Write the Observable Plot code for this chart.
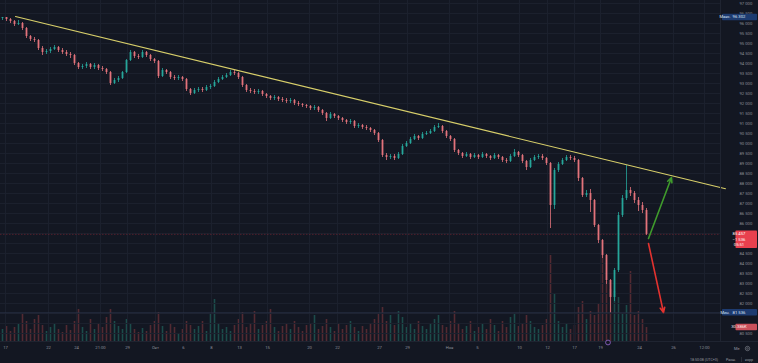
<!DOCTYPE html>
<html><head><meta charset="utf-8">
<script src="https://cdn.jsdelivr.net/npm/d3@7"></script>
<script src="https://cdn.jsdelivr.net/npm/@observablehq/plot@0.6"></script>
<style>
html,body{margin:0;padding:0;background:#131722;}
#wrap{position:relative;width:758px;height:363px;overflow:hidden;background:#131722;font-family:Roboto,"DejaVu Sans",sans-serif;}
#wrap svg{position:absolute;left:0;top:0;overflow:visible;}
</style></head><body><div id="wrap"></div>
<script>
// ---- data (price in points, hourly-ish candles aggregated) ----
const opens=[96250,96300,96200,96100,95950,96000,95750,95350,95200,95150,
94750,94550,94600,94700,94800,94650,94550,94450,94400,94000,
93800,93850,93950,93800,93900,93750,93700,93550,93000,93150,
93250,93550,94150,94550,94350,94300,94550,94400,94200,94100,
93350,93650,93550,93300,93250,93300,93200,92700,92500,92650,
92700,92650,92800,92850,93050,93200,93300,93400,93550,93500,
93300,92900,92650,92600,92550,92600,92450,92350,92250,92300,
92200,92150,92100,92150,92000,91950,91900,91850,91750,91800,
91650,91500,91250,91450,91350,91250,91150,91050,91100,90850,
90900,90800,90750,90650,90500,90150,89400,89300,89350,89250,
89450,89850,90000,90200,90350,90250,90450,90500,90600,90800,
90850,90600,90350,90200,89650,89500,89350,89450,89300,89400,
89300,89450,89350,89250,89400,89300,89150,89100,89350,89550,
89400,89100,88800,89150,89300,89350,89250,89000,86900,88650,
88950,89150,89300,89250,89150,88250,87400,87500,87150,85900,
85150,84400,83150,82300,83650,86400,87250,87650,87500,87150,
86900,86650];
const closes=[96300,96200,96100,95950,96000,95750,95350,95200,95150,94750,
94550,94600,94700,94800,94650,94550,94450,94400,94000,93800,
93850,93950,93800,93900,93750,93700,93550,93000,93150,93250,
93550,94150,94550,94350,94300,94550,94400,94200,94100,93350,
93650,93550,93300,93250,93300,93200,92700,92500,92650,92700,
92650,92800,92850,93050,93200,93300,93400,93550,93500,93300,
92900,92650,92600,92550,92600,92450,92350,92250,92300,92200,
92150,92100,92150,92000,91950,91900,91850,91750,91800,91650,
91500,91250,91450,91350,91250,91150,91050,91100,90850,90900,
90800,90750,90650,90500,90150,89400,89300,89350,89250,89450,
89850,90000,90200,90350,90250,90450,90500,90600,90800,90850,
90600,90350,90200,89650,89500,89350,89450,89300,89400,89300,
89450,89350,89250,89400,89300,89150,89100,89350,89550,89400,
89100,88800,89150,89300,89350,89250,89000,86900,88650,88950,
89150,89300,89250,89150,88250,87400,87500,87150,85900,85150,
84400,83150,82300,83650,86400,87250,87650,87500,87150,86900,
86650,85457];
const highs=[96302,96300,96250,96150,96150,96050,95800,95400,95300,95200,
94850,94700,94800,94900,94850,94750,94650,94550,94450,94050,
93950,94050,94000,94000,93950,93850,93750,93600,93250,93350,
93600,94200,94650,94600,94450,94650,94600,94450,94250,94150,
93750,93700,93600,93400,93400,93350,93250,92750,92750,92800,
92800,92900,92950,93150,93300,93400,93500,93650,93650,93550,
93350,92950,92750,92700,92700,92650,92500,92400,92400,92350,
92300,92250,92250,92200,92100,92000,91950,91900,91900,91850,
91700,91550,91550,91500,91400,91300,91200,91200,91150,91000,
90950,90900,90800,90700,90550,90200,89500,89450,89450,89550,
89950,90100,90300,90450,90400,90550,90600,90700,90900,91000,
90900,90650,90400,90250,89700,89550,89550,89500,89500,89450,
89550,89500,89400,89500,89450,89350,89250,89450,89700,89600,
89450,89150,89250,89400,89450,89450,89300,89050,88750,89050,
89250,89400,89400,89350,89200,88300,87650,87700,87200,85950,
85200,84450,83200,83750,86550,87400,88900,87800,87600,87300,
87050,86750];
const lows=[96150,96100,96000,95850,95900,95650,95250,95100,95050,94650,
94400,94450,94500,94650,94550,94450,94350,94250,93900,93700,
93700,93750,93700,93700,93650,93600,93450,92900,92950,93050,
93200,93500,94100,94250,94200,94250,94300,94100,94000,93250,
93300,93450,93200,93150,93150,93100,92600,92400,92450,92550,
92550,92600,92700,92800,93000,93150,93250,93350,93400,93200,
92800,92550,92500,92450,92450,92350,92250,92150,92150,92100,
92050,92000,92000,91900,91850,91800,91750,91650,91650,91550,
91400,91100,91200,91250,91150,91050,90950,90950,90750,90750,
90700,90650,90550,90400,90050,89300,89150,89200,89150,89200,
89400,89800,89950,90150,90150,90200,90400,90450,90550,90750,
90500,90250,90100,89550,89400,89250,89300,89200,89250,89200,
89250,89250,89150,89200,89200,89050,89000,89050,89300,89300,
89000,88650,88750,89100,89200,89150,88900,85750,86700,88550,
88900,89100,89150,89050,88100,87300,87300,86550,85800,85000,
84250,82950,81536,82100,83550,86300,87150,87350,87000,86600,
86500,85400];
const volumes=[12,15,10,14,18,28,20,12,22,26,
16,10,14,18,12,9,16,11,20,32,
14,10,22,12,18,14,24,32,20,15,
12,22,18,12,9,13,10,16,20,29,
15,10,18,14,8,12,20,16,12,15,
20,10,28,42,18,12,14,10,16,22,
29,14,18,30,12,16,20,32,14,10,
15,18,12,20,14,10,16,18,26,12,
15,22,14,10,18,12,16,20,14,10,
15,12,18,22,28,34,20,26,16,30,
24,14,18,12,20,15,12,18,22,26,
16,14,20,30,18,12,15,20,10,14,
18,12,22,16,10,20,14,24,28,15,
18,26,20,14,12,16,22,86,48,20,
14,18,12,16,34,40,22,30,26,38,
86,60,52,50,44,28,36,70,26,30,
22,14];
const timeTickIdx=[0.75,11.5,18.5,24.5,31.25,38.25,45.25,52.25,59.25,66.25,76.75,83.75,94.25,101.25,111.75,118.75,129.25,136.25,143,149.5,159.25,167.75,175.5];
const timeTickLabels=["17","22","24","21:00","29","Окт","6","8","13","15","20","22","27","29","Ноя","5","10","12","17","19","24","26","12:00"];
const priceGrid=[97000,96500,96000,95500,95000,94500,94000,93500,93000,92500,92000,91500,91000,90500,90000,89500,89000,88500,88000,87500,87000,86500,86000,85500,85000,84500,84000,83500,83000,82500,82000,81500,81000,80500];
const hiddenPriceLabels=[85500,85000,81500,81000];
const trendX=[3.25,180.75];
const trendY=[96350,87740];
const arrowX1=[161.5,161.5], arrowY1=[85250,85000];
const arrowX2=[167.25,165.25], arrowY2=[88300,81550];
const arrowColors=["#3f9b2c","#e2322f"];
const lastChange="−1 536", lastTimer="05:51", lastVolumeLabel="30.386K";

// ---- build ----
const candles=opens.map((o,i)=>({i,o,c:closes[i],h:highs[i],l:lows[i],v:volumes[i],up:closes[i]>=o}));
const UP="#26a69a", DOWN="#e3737b";
const labelMap=new Map(timeTickIdx.map((d,i)=>[d,timeTickLabels[i]]));
const fmt=d=>d3.format(",")(d).replace(/,/g," ");
const lastClose=closes[closes.length-1];
const maxPrice=d3.max(highs), minPrice=d3.min(lows);
const arrows=arrowX1.map((x,i)=>({x1:x,y1:arrowY1[i],x2:arrowX2[i],y2:arrowY2[i],color:arrowColors[i]}));
const common={width:758,height:363,marginLeft:0,marginRight:38,marginTop:0,marginBottom:22,
  style:{background:"transparent",color:"#8b8f99",fontFamily:"Roboto, sans-serif",overflow:"visible"}};

const volPlot=Plot.plot({...common,
  x:{domain:[-0.5,179.5],axis:null},
  y:{domain:[0,341],axis:null},
  marks:[
    Plot.ruleX(candles,{x:"i",y1:0,y2:"v",strokeWidth:1.6,stroke:d=>d.up?"#1c4c4b":"#532a32"})
  ]});

const chart=Plot.plot({...common,
  x:{domain:[-0.5,179.5]},
  y:{domain:[80100,97150]},
  marks:[
    Plot.gridY({ticks:priceGrid,stroke:"#1b202d",strokeOpacity:1}),
    Plot.gridX({ticks:timeTickIdx,stroke:"#1b202d",strokeOpacity:1}),
    Plot.ruleY([minPrice],{stroke:"#2b3246",strokeWidth:0.8}),
    Plot.ruleY([lastClose],{stroke:"#f23645",strokeOpacity:0.4,strokeWidth:0.7,strokeDasharray:"1.5,1.5"}),
    Plot.ruleX(candles,{x:"i",y1:"l",y2:"h",strokeWidth:0.8,stroke:d=>d.up?UP:DOWN}),
    Plot.ruleX(candles,{x:"i",y1:"o",y2:"c",strokeWidth:1.8,stroke:d=>d.up?UP:DOWN}),
    Plot.line(trendX.map((x,i)=>({x,y:trendY[i]})),{x:"x",y:"y",stroke:"#d8cf6a",strokeWidth:1.1}),
    Plot.arrow(arrows,{x1:"x1",y1:"y1",x2:"x2",y2:"y2",stroke:"color",strokeWidth:1.6,headLength:5,headAngle:50}),
    Plot.axisY({anchor:"right",ticks:priceGrid.filter(d=>!hiddenPriceLabels.includes(d)),tickFormat:fmt,tickSize:0,tickPadding:19,fontSize:4.2,fill:"#8b8f99",label:null}),
    Plot.axisX({ticks:timeTickIdx,tickFormat:d=>labelMap.get(d),tickSize:0,tickPadding:5,fontSize:4.2,fill:"#8b8f99",label:null})
  ]});

const wrap=document.getElementById("wrap");
wrap.appendChild(volPlot);
wrap.appendChild(chart);

const Y=chart.scale("y"), X=chart.scale("x"), VY=volPlot.scale("y");
const svg=d3.select(chart);
svg.append("line").attr("x1",720.5).attr("x2",720.5).attr("y1",0).attr("y2",341).attr("stroke","#1f2431");
svg.append("line").attr("x1",0).attr("x2",758).attr("y1",341.5).attr("y2",341.5).attr("stroke","#1f2431");
function tag(yc,x0,w,lines,bg,fg,prefix){
  const g=svg.append("g");
  const h=lines.length*5.4+1.2;
  g.append("rect").attr("x",x0).attr("y",yc-3.3).attr("width",w).attr("height",h).attr("rx",0.8).attr("fill",bg);
  if(prefix) g.append("text").attr("x",x0+3).attr("y",yc).attr("dy","0.35em").attr("font-size",4).attr("fill",fg).text(prefix);
  lines.forEach((t,k)=>g.append("text").attr("x",739).attr("y",yc+k*5.4).attr("dy","0.35em").attr("font-size",4.2).attr("fill",fg).text(t));
}
tag(Y.apply(maxPrice),722,35,[fmt(maxPrice)],"#1d3b70","#dfe6f7","Макс.");
tag(Y.apply(minPrice),722,35,[fmt(minPrice)],"#1d3b70","#dfe6f7","Мин.");
tag(Y.apply(lastClose),735.5,21.5,[fmt(lastClose),lastChange,lastTimer],"#e8404e","#ffffff");
tag(VY.apply(volumes[volumes.length-1]),735.5,21.5,[lastVolumeLabel],"#c9505b","#ffe8ea");
svg.append("circle").attr("cx",X.apply(151.5)).attr("cy",342.5).attr("r",2.4).attr("fill","#131722").attr("stroke","#9b6bd6").attr("stroke-width",0.8);
const t=(x,y,s,txt,anchor)=>svg.append("text").attr("x",x).attr("y",y).attr("dy","0.35em").attr("font-size",s).attr("fill","#9598a1").attr("text-anchor",anchor||"start").text(txt);
t(734,348.5,4,"Ме");
svg.append("circle").attr("cx",747.5).attr("cy",348.5).attr("r",2.2).attr("fill","none").attr("stroke","#8b8f99").attr("stroke-width",0.6);
svg.append("circle").attr("cx",747.5).attr("cy",348.5).attr("r",0.8).attr("fill","none").attr("stroke","#8b8f99").attr("stroke-width",0.5);
t(690,359.5,3.6,"18:50:08 (UTC+3)");
t(726,359.5,3.6,"Расш.");
svg.append("line").attr("x1",741.5).attr("x2",741.5).attr("y1",357).attr("y2",362).attr("stroke","#3a3e49").attr("stroke-width",0.6);
t(745,359.5,3.6,"корр");
</script></body></html>
